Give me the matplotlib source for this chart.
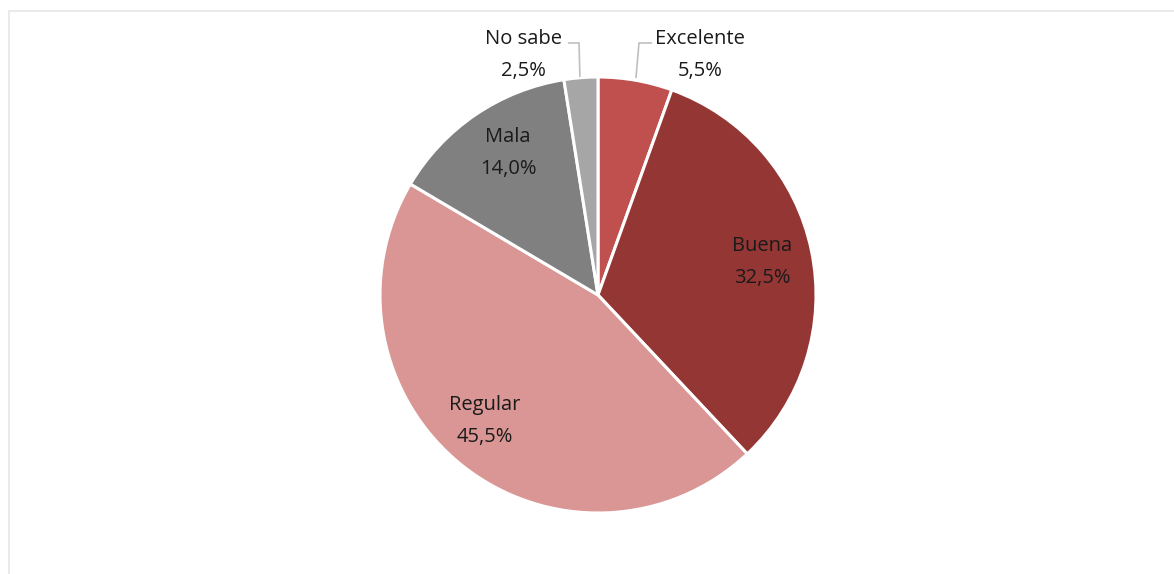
import matplotlib.pyplot as plt
from matplotlib.patches import Rectangle

# Data
categories = ["Excelente", "Buena", "Regular", "Mala", "No sabe"]
values = [5.5, 32.5, 45.5, 14.0, 2.5]
value_labels = ["5,5%", "32,5%", "45,5%", "14,0%", "2,5%"]
colors = ["#C0504D", "#943634", "#D99694", "#808080", "#A6A6A6"]

# Label layout (in pie radius units, center at 0,0)
label_xy = [(0.468, 1.102), (0.752, 0.152), (-0.518, -0.577), (-0.413, 0.652), (-0.344, 1.102)]
leaders = {
    "Excelente": [(0.248, 1.156), (0.188, 1.156), (0.174, 0.995)],
    "No sabe": [(-0.138, 1.156), (-0.087, 1.156), (-0.083, 1.0)],
}

W, H = 1174, 574
R = 218.0
cx, cy = 598.0, 295.0

fig = plt.figure(figsize=(W / 100, H / 100), dpi=100)
ax = fig.add_axes([0, 0, 1, 1])

ax.pie(values, colors=colors, startangle=90, counterclock=False, radius=1.0,
       wedgeprops=dict(edgecolor="white", linewidth=2.2))

ax.set_xlim(-cx / R, (W - cx) / R)
ax.set_ylim(-(H - cy) / R, cy / R)
ax.set_aspect("equal", adjustable="box")
ax.axis("off")

# Chart frame
fig.patches.append(Rectangle((9 / W, -0.1), 1.2, (H - 11) / H + 0.1, transform=fig.transFigure,
                             fill=False, edgecolor="#E6E6E6", linewidth=1.2))

for cat, lab, (x, y) in zip(categories, value_labels, label_xy):
    ax.text(x, y, f"{cat}\n{lab}", ha="center", va="center", fontsize=14.5,
            color="#1a1a1a", linespacing=1.78, family=["Open Sans", "DejaVu Sans"])

for name, pts in leaders.items():
    xs, ys = zip(*pts)
    ax.plot(xs, ys, color="#BFBFBF", linewidth=1.2, solid_capstyle="butt")

fig.savefig("out.png", dpi=100)
